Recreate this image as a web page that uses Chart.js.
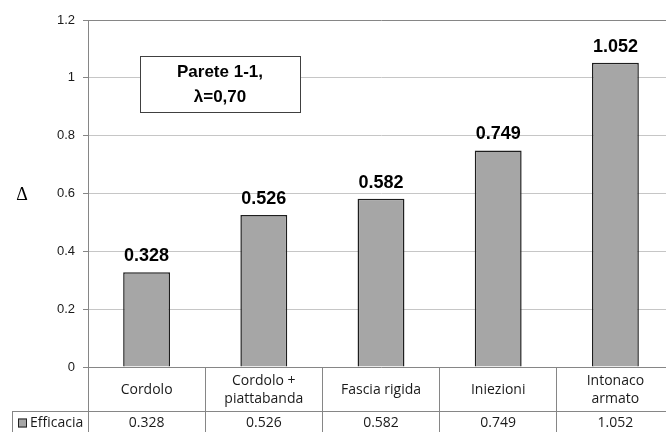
<!DOCTYPE html>
<html>
<head>
<meta charset="utf-8">
<script src="https://cdn.jsdelivr.net/npm/chart.js@4/dist/chart.umd.min.js"></script>
<style>
  html, body { margin: 0; padding: 0; background: #fff; overflow: hidden; }
  #wrap { width: 666px; height: 432px; overflow: hidden; position: relative; }
  canvas { display: block; }
</style>
</head>
<body>
<div id="wrap"><canvas id="c" width="676" height="432"></canvas></div>
<script>
// Interventions and their efficacy Δ
const categories = [['Cordolo'], ['Cordolo +', 'piattabanda'], ['Fascia rigida'], ['Iniezioni'], ['Intonaco', 'armato']];
const efficacia = [0.328, 0.526, 0.582, 0.749, 1.052];
const seriesName = 'Efficacia';
const yMin = 0, yMax = 1.2, yStep = 0.2;
const noteLines = ['Parete 1-1,', 'λ=0,70'];
const yTitle = 'Δ';

const GRID = '#c6c6c6';
const AXIS = '#868686';
const BAR = '#a6a6a6';
const TABLE_FONT = '14px "Open Sans", "Liberation Sans", sans-serif';
const TABLE_ROW1 = 44;   // height of the category row under the axis

const extras = {
  id: 'extras',
  afterDatasetsDraw(chart) {
    const ctx = chart.ctx;
    const meta = chart.getDatasetMeta(0);
    ctx.save();
    // value labels on top of each bar
    ctx.font = 'bold 18px "Liberation Sans", Arial, sans-serif';
    ctx.fillStyle = '#000';
    ctx.textAlign = 'center';
    ctx.textBaseline = 'alphabetic';
    meta.data.forEach((bar, i) => {
      ctx.fillText(efficacia[i].toFixed(3), bar.x, bar.y - 11);
    });
    ctx.restore();
  },
  afterDraw(chart) {
    const ctx = chart.ctx;
    const area = chart.chartArea;
    const x = chart.scales.x;
    ctx.save();

    // note box
    const bx = area.left + 52, by = area.top + 36, bw = 160, bh = 56;
    ctx.fillStyle = '#fff';
    ctx.fillRect(bx, by, bw, bh);
    ctx.strokeStyle = '#404040';
    ctx.lineWidth = 1;
    ctx.strokeRect(bx + 0.5, by + 0.5, bw, bh);
    ctx.fillStyle = '#000';
    ctx.font = 'bold 17px "Liberation Sans", Arial, sans-serif';
    ctx.textAlign = 'center';
    ctx.textBaseline = 'middle';
    ctx.fillText(noteLines[0], bx + bw / 2, by + 16);
    ctx.fillText(noteLines[1], bx + bw / 2, by + 41);

    // axis title
    ctx.font = '18px "Liberation Serif", "Times New Roman", serif';
    ctx.fillText(yTitle, 22, (area.top + area.bottom) / 2 + 2);

    // data table below the axis
    const rowTop = area.bottom;
    const rowMid = rowTop + TABLE_ROW1;
    const bottom = chart.height;
    ctx.strokeStyle = AXIS;
    ctx.beginPath();
    ctx.moveTo(12, Math.round(rowMid) + 0.5);
    ctx.lineTo(chart.width, Math.round(rowMid) + 0.5);
    ctx.moveTo(12.5, Math.round(rowMid));
    ctx.lineTo(12.5, bottom);
    ctx.stroke();

    ctx.fillStyle = '#1a1a1a';
    ctx.font = TABLE_FONT;
    ctx.textAlign = 'center';
    ctx.textBaseline = 'middle';
    const valueY = rowMid + 12;
    categories.forEach((lines, i) => {
      const cx = x.getPixelForValue(i);
      const cy = rowTop + TABLE_ROW1 / 2 + 1;
      const lh = 18.5;
      lines.forEach((t, k) => {
        ctx.fillText(t, cx, cy + (k - (lines.length - 1) / 2) * lh);
      });
      ctx.fillText(efficacia[i].toFixed(3), cx, valueY);
    });

    // legend key in the table
    const ky = valueY;
    ctx.fillStyle = BAR;
    ctx.fillRect(18, ky - 4.5, 9, 9);
    ctx.strokeStyle = '#222';
    ctx.strokeRect(18.5, ky - 4, 8, 8);
    ctx.fillStyle = '#1a1a1a';
    ctx.textAlign = 'left';
    ctx.fillText(seriesName, 30, ky);
    ctx.restore();
  }
};

new Chart(document.getElementById('c'), {
  type: 'bar',
  data: {
    labels: categories.map(c => c.join(' ')),
    datasets: [{
      label: seriesName,
      data: efficacia,
      backgroundColor: BAR,
      borderColor: '#1e1e1e',
      borderWidth: 1.5,
      barPercentage: 0.4,
      categoryPercentage: 1
    }]
  },
  options: {
    responsive: false,
    animation: false,
    devicePixelRatio: 1,
    layout: { padding: { top: 20, right: 2, bottom: 0, left: 0 } },
    plugins: { legend: { display: false }, tooltip: { enabled: false } },
    scales: {
      x: {
        offset: true,
        grid: {
          offset: true,
          drawOnChartArea: false,
          drawTicks: true,
          tickLength: 65,
          tickColor: AXIS,
          color: AXIS
        },
        border: { display: true, color: AXIS, width: 1 },
        ticks: { display: false },
        afterFit(s) { s.height = 65; }
      },
      y: {
        min: yMin,
        max: yMax,
        grid: {
          color: ctx => (ctx.tick && ctx.tick.value >= yMax - 1e-9) ? AXIS : GRID,
          tickColor: AXIS,
          tickLength: 5
        },
        border: { display: true, color: AXIS, width: 1 },
        ticks: {
          stepSize: yStep,
          padding: 8,
          color: '#1a1a1a',
          font: { family: '"Liberation Sans", Arial, sans-serif', size: 13 },
          callback: v => String(+v.toFixed(1))
        },
        afterFit(s) { s.width = 88; }
      }
    }
  },
  plugins: [extras]
});
</script>
</body>
</html>
